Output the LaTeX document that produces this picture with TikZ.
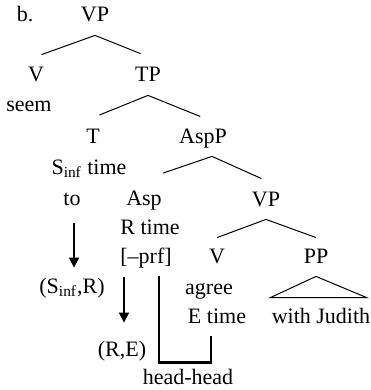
\documentclass[tikz,border=0pt]{standalone}
\usepackage{fontspec}
\setmainfont{Liberation Serif}
\usetikzlibrary{arrows.meta}

\begin{document}
\begin{tikzpicture}[x=0.5pt,y=-0.5pt,
  tn/.style={inner sep=0pt,anchor=base,text height=12.5pt,text depth=6.5pt,font=\fontsize{11}{13}\selectfont},
  br/.style={line width=0.5pt},
  mv/.style={->,line width=0.8pt},
  hd/.style={line width=1.1pt},
  >={Triangle[length=5pt,width=5pt]}]
\useasboundingbox (0,0) rectangle (370,390);
% tree
\node[tn] (lab) at (25,22) {b.};
\node[tn] (vp) at (95,22) {VP};
\node[tn] (v) at (36,82) {V};
\node[tn] (tp) at (148,82) {TP};
\node[tn] (seem) at (29,112) {seem};
\node[tn] (t) at (93,143) {T};
\node[tn] (aspp) at (203,143) {AspP};
\node[tn] (sinf) at (89,174) {S\textsubscript{inf} time};
\node[tn] (to) at (72,205) {to};
\node[tn] (asp) at (144,205) {Asp};
\node[tn] (vp2) at (266,206) {VP};
\node[tn] (rtime) at (150,234) {R time};
\node[tn] (prf) at (146,263) {[--prf]};
\node[tn] (v2) at (217,263) {V};
\node[tn] (pp) at (316,263) {PP};
\node[tn] (sinfr) at (72,293) {(S\textsubscript{inf},R)};
\node[tn] (agree) at (209,294) {agree};
\node[tn] (etime) at (217,323) {E time};
\node[tn] (judith) at (321,323) {with Judith};
\node[tn] (re) at (122,356) {(R,E)};
\node[tn] (hh) at (188,384) {head-head};
% branches
\draw[br,shorten >=3pt] (vp.south) -- (v.north);
\draw[br,shorten >=4pt] (vp.south) -- (tp.north);
\draw[br,shorten >=3.5pt] (tp.south) -- (t.north);
\draw[br,shorten >=1.5pt] (tp.south) -- (aspp.north);
\draw[br,shorten >=10pt] ([xshift=4.5pt]aspp.south) -- (asp.north);
\draw[br,shorten >=2.5pt] ([xshift=4.5pt]aspp.south) -- (vp2.north);
\draw[br] (vp2.south) -- (v2.north);
\draw[br] (vp2.south) -- (pp.north);
\draw[br] (pp.south) -- ([xshift=-0.5pt]judith.north west) -- ([xshift=-2pt]judith.north east) -- cycle;
% movement and head-head link
\draw[mv,shorten <=2.5pt] ([xshift=1pt]to.south) -- ([xshift=1pt]sinfr.north);
\draw[mv,shorten <=0.5pt,shorten >=4pt] ([xshift=1pt]re.north |- prf.south) -- ([xshift=1pt]re.north);
\draw[hd] ([xshift=6.5pt]prf.south) |- ([xshift=-3pt,yshift=-13pt]etime.south) -- ([xshift=-3pt]etime.south);
\end{tikzpicture}
\end{document}
